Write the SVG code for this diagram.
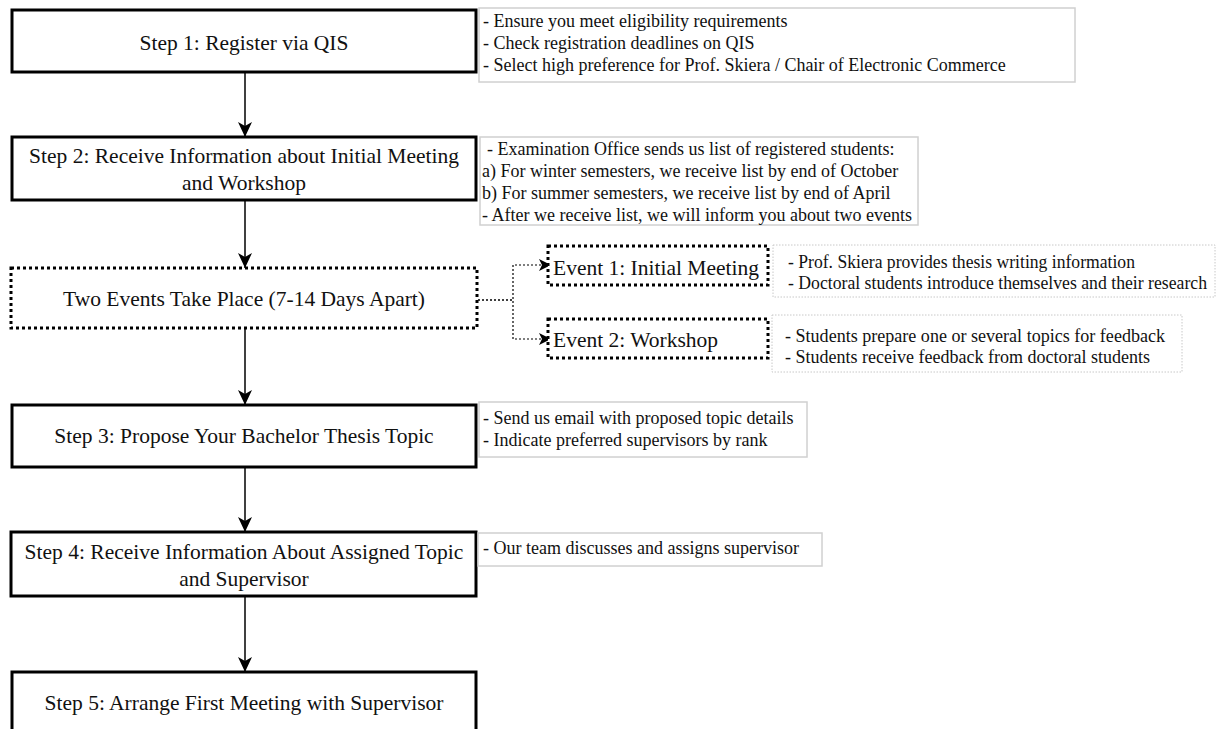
<svg xmlns="http://www.w3.org/2000/svg" width="1217" height="729" viewBox="0 0 1217 729">
<defs>
<style>
.step{fill:#fff;stroke:#000;stroke-width:3}
.dotbox{fill:#fff;stroke:#000;stroke-width:3;stroke-dasharray:3 3}
.note{fill:#fff;stroke:#d0d0d0;stroke-width:1.5}
.dnote{fill:#fff;stroke:#c8c8c8;stroke-width:1;stroke-dasharray:1.5 1.5}
.t{font-family:"Liberation Serif","Times New Roman",serif;font-size:21.5px;fill:#111}
.n{font-family:"Liberation Serif","Times New Roman",serif;font-size:18px;fill:#111}
.en{font-family:"Liberation Serif","Times New Roman",serif;font-size:18px;fill:#111}
.c{text-anchor:middle}
.arr{fill:none;stroke:#000;stroke-width:1.5}
.darr{fill:none;stroke:#000;stroke-width:1.2;stroke-dasharray:2 2}
</style>
<marker id="ah" markerUnits="userSpaceOnUse" markerWidth="16" markerHeight="14" refX="15" refY="7" orient="auto">
<path d="M0,0 L15,7 L0,14 L4,7 Z" fill="#000"/>
</marker>
<marker id="ahs" markerUnits="userSpaceOnUse" markerWidth="13" markerHeight="12" refX="12" refY="6" orient="auto">
<path d="M0,0 L12,6 L0,12 L3,6 Z" fill="#000"/>
</marker>
</defs>
<rect width="1217" height="729" fill="#fff"/>

<g id="connectors">
<path class="arr" d="M245,72 V137" marker-end="url(#ah)"/>
<path class="arr" d="M245,200 V268" marker-end="url(#ah)"/>
<path class="arr" d="M245,328 V405" marker-end="url(#ah)"/>
<path class="arr" d="M245,467 V532" marker-end="url(#ah)"/>
<path class="arr" d="M245,596 V672" marker-end="url(#ah)"/>
<path class="darr" d="M478,300 H513 V265 H551" marker-end="url(#ahs)"/>
<path class="darr" d="M478,300 H513 V339 H551" marker-end="url(#ahs)"/>
</g>

<g id="step1">
<rect class="step" x="12" y="10" width="464" height="62"/>
<text class="t c" x="244" y="50">Step 1: Register via QIS</text>
</g>
<g id="note1">
<rect class="note" x="479" y="8" width="596" height="74"/>
<text class="n" x="483" y="27">- Ensure you meet eligibility requirements</text>
<text class="n" x="483" y="49">- Check registration deadlines on QIS</text>
<text class="n" x="483" y="71">- Select high preference for Prof. Skiera / Chair of Electronic Commerce</text>
</g>

<g id="step2">
<rect class="step" x="12" y="137" width="464" height="63"/>
<text class="t c" x="244" y="163">Step 2: Receive Information about Initial Meeting</text>
<text class="t c" x="244" y="190">and Workshop</text>
</g>
<g id="note2">
<rect class="note" x="480" y="137" width="438" height="88"/>
<text class="n" x="487" y="155">- Examination Office sends us list of registered students:</text>
<text class="n" x="482" y="177">a) For winter semesters, we receive list by end of October</text>
<text class="n" x="482" y="199">b) For summer semesters, we receive list by end of April</text>
<text class="n" x="482" y="221">- After we receive list, we will inform you about two events</text>
</g>

<g id="events">
<rect class="dotbox" x="11" y="268" width="466" height="60"/>
<text class="t c" x="244" y="306">Two Events Take Place (7-14 Days Apart)</text>
</g>

<g id="event1">
<rect class="dotbox" x="548" y="246" width="220" height="39"/>
<text class="t" x="553" y="275">Event 1: Initial Meeting</text>
</g>
<g id="event1note">
<rect class="dnote" x="773" y="245" width="442" height="52"/>
<text class="en" x="788" y="268" textLength="347" lengthAdjust="spacingAndGlyphs">- Prof. Skiera provides thesis writing information</text>
<text class="en" x="788" y="289" textLength="419" lengthAdjust="spacingAndGlyphs">- Doctoral students introduce themselves and their research</text>
</g>

<g id="event2">
<rect class="dotbox" x="548" y="319" width="220" height="39"/>
<text class="t" x="553" y="347">Event 2: Workshop</text>
</g>
<g id="event2note">
<rect class="dnote" x="772" y="315" width="410" height="57"/>
<text class="en" x="785" y="342" textLength="380" lengthAdjust="spacingAndGlyphs">- Students prepare one or several topics for feedback</text>
<text class="en" x="785" y="363" textLength="365" lengthAdjust="spacingAndGlyphs">- Students receive feedback from doctoral students</text>
</g>

<g id="step3">
<rect class="step" x="12" y="405" width="464" height="62"/>
<text class="t c" x="244" y="443">Step 3: Propose Your Bachelor Thesis Topic</text>
</g>
<g id="note3">
<rect class="note" x="479" y="402" width="328" height="55"/>
<text class="n" x="483" y="424">- Send us email with proposed topic details</text>
<text class="n" x="483" y="446">- Indicate preferred supervisors by rank</text>
</g>

<g id="step4">
<rect class="step" x="11" y="532" width="465" height="64"/>
<text class="t c" x="244" y="559">Step 4: Receive Information About Assigned Topic</text>
<text class="t c" x="244" y="586">and Supervisor</text>
</g>
<g id="note4">
<rect class="note" x="478" y="533" width="344" height="33"/>
<text class="n" x="483" y="554">- Our team discusses and assigns supervisor</text>
</g>

<g id="step5">
<rect class="step" x="12" y="672" width="464" height="62"/>
<text class="t c" x="244" y="710">Step 5: Arrange First Meeting with Supervisor</text>
</g>
</svg>
